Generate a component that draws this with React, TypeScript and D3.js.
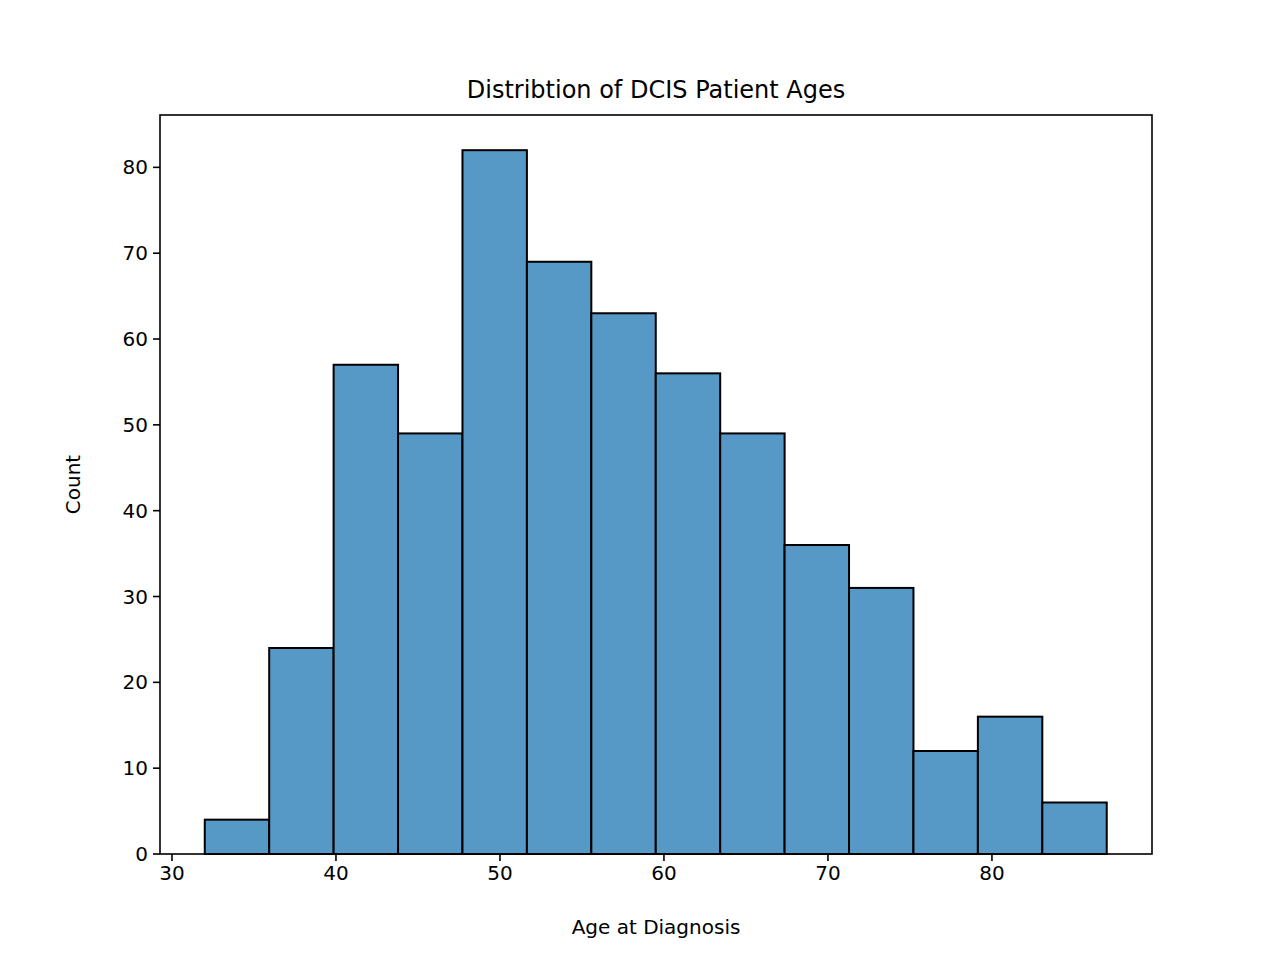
import { scaleLinear } from 'd3'

const binStart = 32
const binEnd = 87
const counts = [4, 24, 57, 49, 82, 69, 63, 56, 49, 36, 31, 12, 16, 6]
const xTicks = [30, 40, 50, 60, 70, 80]
const yTicks = [0, 10, 20, 30, 40, 50, 60, 70, 80]

const W = 1280
const H = 960
const margin = { top: 115, right: 128, bottom: 106, left: 160 }

export default function App() {
    const innerW = W - margin.left - margin.right
    const innerH = H - margin.top - margin.bottom
    const binW = (binEnd - binStart) / counts.length
    const x = scaleLinear().domain([29.27, 89.76]).range([0, innerW])
    const y = scaleLinear().domain([0, Math.max(...counts) * 1.05]).range([innerH, 0])
    const font = 'DejaVu Sans, sans-serif'

    return (
        <svg width={W} height={H} style={{ position: 'absolute', left: 0, top: 0 }} fontFamily={font}>
            <rect width={W} height={H} fill="white" />
            <g transform={`translate(${margin.left}, ${margin.top})`}>
                {counts.map((c, i) => {
                    const x0 = x(binStart + i * binW)
                    const x1 = x(binStart + (i + 1) * binW)
                    return (
                        <rect key={i} x={x0} y={y(c)} width={x1 - x0} height={innerH - y(c)}
                            fill="#5799c6" stroke="black" strokeWidth={2} />
                    )
                })}
                <rect x={0} y={0} width={innerW} height={innerH} fill="none" stroke="black" strokeWidth={1.6} />
                {xTicks.map(t => (
                    <g key={t} transform={`translate(${x(t)}, ${innerH})`}>
                        <line y2={7} stroke="black" strokeWidth={1.6} />
                        <text y={26} textAnchor="middle" fontSize={20}>{t}</text>
                    </g>
                ))}
                {yTicks.map(t => (
                    <g key={t} transform={`translate(0, ${y(t)})`}>
                        <line x2={-7} stroke="black" strokeWidth={1.6} />
                        <text x={-12} dy="0.35em" textAnchor="end" fontSize={20}>{t}</text>
                    </g>
                ))}
                <text x={innerW / 2} y={innerH + 80} textAnchor="middle" fontSize={20}>Age at Diagnosis</text>
                <text transform={`translate(-80, ${innerH / 2}) rotate(-90)`} textAnchor="middle" fontSize={20}>Count</text>
                <text x={innerW / 2} y={-17} textAnchor="middle" fontSize={24}>Distribtion of DCIS Patient Ages</text>
            </g>
        </svg>
    )
}
